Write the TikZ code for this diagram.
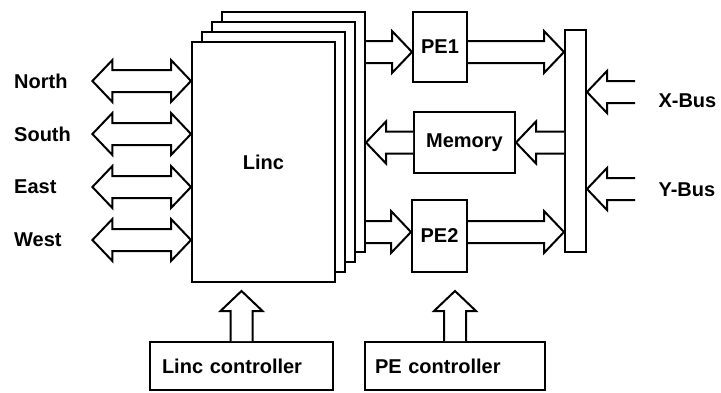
\documentclass[tikz,border=0pt]{standalone}
\usepackage{fontspec}
\setmainfont{Liberation Sans}
\usetikzlibrary{calc}

\tikzset{
  box/.style={draw, line width=2pt, fill=white, inner sep=0pt},
  lbl/.style={font=\bfseries\fontsize{20}{24}\selectfont},
  hollow/.style={draw, line width=2pt, fill=white, line join=miter}
}

% hollow bus arrow, open tail at #1, head at #2
\newcommand{\fatarrow}[2]{%
  \coordinate (fa-h) at ($(#2)!20pt!(#1)$);
  \draw[hollow] ($(#1)!11pt!90:(#2)$) -- ($(fa-h)!11pt!90:(#2)$)
    -- ($(fa-h)!21pt!90:(#2)$) -- (#2) -- ($(fa-h)!21pt!-90:(#2)$)
    -- ($(fa-h)!11pt!-90:(#2)$) -- ($(#1)!11pt!-90:(#2)$);}
% hollow bus arrow, heads at both ends
\newcommand{\fatdarrow}[2]{%
  \coordinate (fa-a) at ($(#1)!20pt!(#2)$);
  \coordinate (fa-b) at ($(#2)!20pt!(#1)$);
  \draw[hollow] (#1) -- ($(fa-a)!21pt!90:(#2)$) -- ($(fa-a)!11pt!90:(#2)$)
    -- ($(fa-b)!11pt!90:(#2)$) -- ($(fa-b)!21pt!90:(#2)$) -- (#2)
    -- ($(fa-b)!21pt!-90:(#2)$) -- ($(fa-b)!11pt!-90:(#2)$)
    -- ($(fa-a)!11pt!-90:(#2)$) -- ($(fa-a)!21pt!-90:(#2)$) -- cycle;}

\begin{document}
\begin{tikzpicture}[x=1pt, y=-1pt]
\useasboundingbox (0,0) rectangle (721,392);

% stacked Linc boards
\foreach \k in {3,2,1}
  \node[box, minimum width=143pt, minimum height=240pt] (layer\k) at (263.5+10*\k, 162-10*\k) {};
\node[box, lbl, minimum width=143pt, minimum height=240pt] (linc) at (263.5,162) {Linc};

\node[box, lbl, minimum width=54pt, minimum height=70pt] (pe1) at (440,47) {PE1};
\node[box, lbl, minimum width=101pt, minimum height=61pt] (mem) at (464.5,142.5) {Memory};
\node[box, lbl, minimum width=55pt, minimum height=72pt] (pe2) at (439.5,236) {PE2};
\node[box, minimum width=21pt, minimum height=222pt] (bus) at (575.5,141) {};

\node[box, lbl, minimum width=183pt, minimum height=48pt, text width=159pt, align=left] (lincctl) at (241.5,366) {Linc controller};
\node[box, lbl, minimum width=180pt, minimum height=48pt, text width=160pt, align=left] (pectl) at (455,366) {PE controller};

% ports
\foreach \d/\t/\y in {N/North/81, S/South/134, E/East/187, W/West/240} {
  \node[lbl, anchor=west, text width=78pt, inner sep=0pt] (p\d) at (14,\y) {\t};
  \coordinate (q\d) at (p\d.east -| linc.west);
  \fatdarrow{p\d.east}{q\d}
}

% data paths
\coordinate (pe1in) at ([yshift=-5pt]pe1.west);
\coordinate (pe2in) at ([yshift=4pt]pe2.west);
\fatarrow{layer3.east |- pe1in}{pe1in}
\fatarrow{pe1.east |- pe1in}{bus.west |- pe1in}
\fatarrow{bus.west |- mem.east}{mem.east}
\fatarrow{mem.west}{mem.west -| layer3.east}
\fatarrow{layer3.east |- pe2in}{pe2in}
\fatarrow{pe2.east |- pe2in}{bus.west |- pe2in}

% external buses
\node[lbl, anchor=west] (xbus) at (655,101) {X-Bus};
\node[lbl, anchor=west] (ybus) at (655,190) {Y-Bus};
\coordinate (xtail) at (635,92);
\coordinate (ytail) at (635,189);
\fatarrow{xtail}{bus.east |- xtail}
\fatarrow{ytail}{bus.east |- ytail}

% controllers
\coordinate (ltip) at ($(lincctl.north |- linc.south)+(0,8)$);
\coordinate (ptip) at ($(pectl.north |- pe2.south)+(0,18)$);
\fatarrow{lincctl.north}{ltip}
\fatarrow{pectl.north}{ptip}
\end{tikzpicture}
\end{document}
